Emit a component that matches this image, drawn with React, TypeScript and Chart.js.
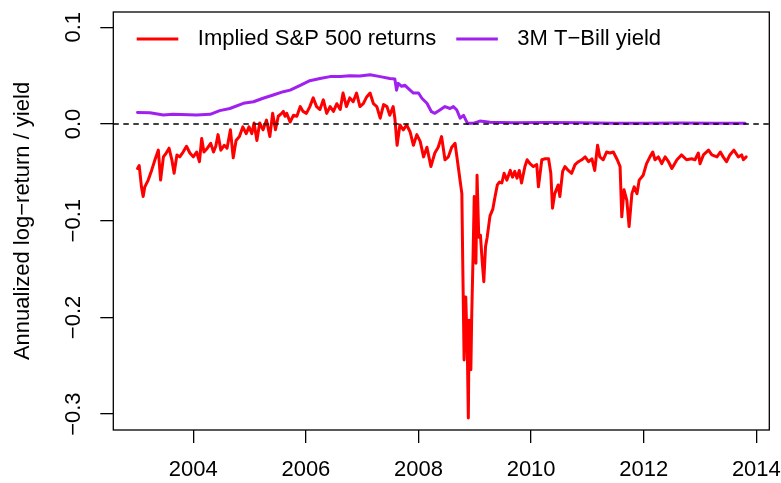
import React, { useEffect, useRef } from "react";
import { Chart, registerables } from "chart.js";

Chart.register(...registerables);

const FONT = '"Liberation Sans", Arial, Helvetica, sans-serif';

// ---- labels ----
const spLabel = "Implied S&P 500 returns";
const tbLabel = "3M T\u2212Bill yield";
const yTitle = "Annualized log\u2212return / yield";

// ---- axes ----
const xTicks = [2004, 2006, 2008, 2010, 2012, 2014];
const xTickLabels = ["2004", "2006", "2008", "2010", "2012", "2014"];
const yTicks = [-0.3, -0.2, -0.1, 0, 0.1];
const yTickLabels = ["\u22120.3", "\u22120.2", "\u22120.1", "0.0", "0.1"];
const X_MIN = 2002.58;
const X_MAX = 2014.23;
const Y_MIN = -0.3164;
const Y_MAX = 0.1158;

// ---- implied S&P 500 returns ----
const spYears = [
  2003.01, 2003.04, 2003.08, 2003.11, 2003.14, 2003.2, 2003.26, 2003.32, 2003.38, 2003.42,
  2003.47, 2003.52, 2003.57, 2003.62, 2003.66, 2003.71, 2003.76, 2003.82, 2003.88, 2003.94,
  2004.0, 2004.06, 2004.11, 2004.15, 2004.19, 2004.25, 2004.31, 2004.36, 2004.4, 2004.44,
  2004.49, 2004.55, 2004.6, 2004.66, 2004.71, 2004.76, 2004.82, 2004.88, 2004.94, 2004.99,
  2005.04, 2005.08, 2005.13, 2005.18, 2005.24, 2005.3, 2005.36, 2005.41, 2005.46, 2005.51,
  2005.57, 2005.6, 2005.63, 2005.66, 2005.72, 2005.78, 2005.84, 2005.9, 2005.95, 2006.01,
  2006.07, 2006.13, 2006.19, 2006.25, 2006.31, 2006.37, 2006.43, 2006.49, 2006.55, 2006.61,
  2006.66, 2006.72, 2006.78, 2006.84, 2006.9, 2006.96, 2007.02, 2007.08, 2007.14, 2007.2,
  2007.26, 2007.32, 2007.38, 2007.44, 2007.49, 2007.55, 2007.58, 2007.62, 2007.67, 2007.73,
  2007.79, 2007.85, 2007.91, 2007.97, 2008.03, 2008.09, 2008.15, 2008.22, 2008.29, 2008.35,
  2008.41, 2008.47, 2008.53, 2008.59, 2008.65, 2008.71, 2008.77, 2008.785, 2008.81, 2008.83,
  2008.84, 2008.87, 2008.885, 2008.9, 2008.93, 2008.945, 2008.97, 2008.99, 2009.02, 2009.04,
  2009.07, 2009.1, 2009.13, 2009.16, 2009.19, 2009.22, 2009.27, 2009.32, 2009.36, 2009.4,
  2009.44, 2009.48, 2009.52, 2009.57, 2009.63, 2009.67, 2009.71, 2009.75, 2009.79, 2009.83,
  2009.89, 2009.93, 2009.98, 2010.04, 2010.1, 2010.13, 2010.19, 2010.25, 2010.31, 2010.35,
  2010.38, 2010.42, 2010.48, 2010.51, 2010.56, 2010.6, 2010.66, 2010.72, 2010.78, 2010.84,
  2010.9, 2010.96, 2011.02, 2011.08, 2011.13, 2011.18, 2011.22, 2011.28, 2011.34, 2011.4,
  2011.46, 2011.53, 2011.58, 2011.61, 2011.65, 2011.7, 2011.74, 2011.79, 2011.83, 2011.88,
  2011.92, 2011.99, 2012.05, 2012.11, 2012.16, 2012.2, 2012.26, 2012.32, 2012.38, 2012.44,
  2012.5, 2012.59, 2012.67, 2012.76, 2012.85, 2012.91, 2012.97, 2013.0, 2013.06, 2013.15,
  2013.21, 2013.3, 2013.36, 2013.41, 2013.47, 2013.53, 2013.6, 2013.68, 2013.74, 2013.77, 2013.82,
];
const spValues = [
  -0.046, -0.043, -0.065, -0.075, -0.065, -0.058, -0.048, -0.037, -0.027, -0.058,
  -0.034, -0.03, -0.025, -0.037, -0.051, -0.032, -0.034, -0.029, -0.023, -0.03,
  -0.034, -0.029, -0.039, -0.015, -0.029, -0.025, -0.02, -0.029, -0.023, -0.011,
  -0.027, -0.022, -0.025, -0.006, -0.035, -0.017, -0.013, -0.003, -0.01, -0.003,
  -0.01, 0.001, -0.017, 0.001, -0.006, 0.004, -0.013, 0.011, -0.006, 0.008,
  0.011, 0.013, 0.008, 0.011, 0.002, 0.009, 0.008, 0.018, 0.013, 0.011,
  0.018, 0.027, 0.018, 0.015, 0.025, 0.011, 0.018, 0.013, 0.021, 0.015,
  0.032, 0.018, 0.027, 0.023, 0.032, 0.018, 0.021, 0.028, 0.032, 0.021,
  0.018, 0.006, 0.02, 0.018, 0.009, 0.018, 0.006, -0.022, -0.001, -0.006,
  -0.001, -0.008, -0.022, -0.011, -0.018, -0.034, -0.024, -0.044, -0.03, -0.024,
  -0.013, -0.037, -0.034, -0.024, -0.02, -0.046, -0.072, -0.14, -0.244, -0.179,
  -0.18, -0.244, -0.304, -0.203, -0.254, -0.199, -0.134, -0.075, -0.144, -0.053,
  -0.117, -0.115, -0.141, -0.163, -0.127, -0.117, -0.095, -0.088, -0.075, -0.063,
  -0.06, -0.061, -0.051, -0.058, -0.048, -0.055, -0.049, -0.056, -0.048, -0.061,
  -0.044, -0.037, -0.041, -0.044, -0.042, -0.065, -0.037, -0.036, -0.036, -0.051,
  -0.087, -0.072, -0.063, -0.075, -0.049, -0.044, -0.048, -0.051, -0.042, -0.039,
  -0.037, -0.034, -0.039, -0.036, -0.048, -0.022, -0.034, -0.037, -0.029, -0.03,
  -0.029, -0.037, -0.044, -0.096, -0.068, -0.079, -0.106, -0.072, -0.065, -0.072,
  -0.058, -0.053, -0.041, -0.034, -0.029, -0.037, -0.034, -0.041, -0.034, -0.039,
  -0.046, -0.037, -0.032, -0.037, -0.036, -0.037, -0.03, -0.041, -0.032, -0.027,
  -0.032, -0.034, -0.029, -0.034, -0.039, -0.032, -0.027, -0.034, -0.032, -0.037, -0.034,
];

// ---- 3M T-Bill yield ----
const tbYears = [
  2003.01, 2003.23, 2003.47, 2003.64, 2004.06, 2004.3, 2004.47, 2004.65, 2004.89, 2005.07,
  2005.24, 2005.42, 2005.6, 2005.72, 2005.9, 2006.07, 2006.25, 2006.43, 2006.61, 2006.78,
  2006.96, 2007.14, 2007.32, 2007.49, 2007.58, 2007.61, 2007.64, 2007.7, 2007.76, 2007.85,
  2007.91, 2008.0, 2008.06, 2008.15, 2008.23, 2008.29, 2008.38, 2008.47, 2008.56, 2008.62,
  2008.68, 2008.74, 2008.8, 2008.87, 2008.97, 2009.09, 2009.27, 2009.68, 2010.28, 2010.87,
  2011.46, 2012.05, 2012.64, 2013.24, 2013.8,
];
const tbValues = [
  0.012, 0.0117, 0.0093, 0.01, 0.0093, 0.01, 0.0138, 0.016, 0.0214, 0.023,
  0.0266, 0.03, 0.0334, 0.035, 0.04, 0.0448, 0.047, 0.049, 0.049, 0.05,
  0.0496, 0.051, 0.049, 0.047, 0.0465, 0.035, 0.042, 0.039, 0.04, 0.035,
  0.032, 0.032, 0.0266, 0.0214, 0.0127, 0.011, 0.0145, 0.018, 0.016, 0.018,
  0.0145, 0.006, 0.009, 0.0007, 0.0007, 0.003, 0.0018, 0.0014, 0.0015, 0.0014,
  0.0007, 0.0007, 0.001, 0.0008, 0.0007,
];

const spColor = "#FF0000";
const tbColor = "#A020F0";

function zip(xs: number[], ys: number[]) {
  const n = Math.min(xs.length, ys.length);
  const out: { x: number; y: number }[] = [];
  for (let i = 0; i < n; i++) out.push({ x: xs[i], y: ys[i] });
  return out;
}

const framePlugin = {
  id: "rframe",
  afterDatasetsDraw(chart: any) {
    const { ctx, chartArea, scales } = chart;
    const { left, right, top, bottom } = chartArea;
    ctx.save();
    // dashed zero line
    const y0 = scales.y.getPixelForValue(0);
    ctx.strokeStyle = "#000";
    ctx.lineWidth = 1.3;
    ctx.setLineDash([5.5, 4.5]);
    ctx.beginPath();
    ctx.moveTo(left, y0);
    ctx.lineTo(right, y0);
    ctx.stroke();
    ctx.setLineDash([]);
    // box
    ctx.lineWidth = 1.3;
    ctx.strokeRect(left, top, right - left, bottom - top);
    // y tick labels (rotated, R style)
    ctx.fillStyle = "#000";
    ctx.font = `22px ${FONT}`;
    ctx.textAlign = "center";
    ctx.textBaseline = "middle";
    yTicks.forEach((v, i) => {
      const py = scales.y.getPixelForValue(v);
      ctx.save();
      ctx.translate(left - 39.8, py);
      ctx.rotate(-Math.PI / 2);
      ctx.fillText(yTickLabels[i], 0, 0);
      ctx.restore();
    });
    // legend
    const ly = top + 27;
    let lx = left + 23.4;
    ctx.textAlign = "left";
    ctx.lineCap = "butt";
    chart.data.datasets.forEach((ds: any) => {
      ctx.strokeStyle = ds.borderColor;
      ctx.lineWidth = 3;
      ctx.beginPath();
      ctx.moveTo(lx, ly);
      ctx.lineTo(lx + 41.6, ly);
      ctx.stroke();
      const tx = lx + 41.6 + 19.5;
      ctx.fillStyle = "#000";
      ctx.fillText(ds.label, tx, ly - 0.5);
      lx = tx + ctx.measureText(ds.label).width + 20;
    });
    ctx.restore();
  },
};

export default function App() {
  const ref = useRef<HTMLCanvasElement>(null);
  useEffect(() => {
    const canvas = ref.current;
    if (!canvas) return;
    const tickGrid = {
      drawOnChartArea: false,
      drawTicks: true,
      tickLength: 13,
      color: "#000",
      lineWidth: 1.3,
    };
    const chart = new Chart(canvas, {
      type: "line",
      data: {
        datasets: [
          {
            label: spLabel,
            data: zip(spYears, spValues),
            borderColor: spColor,
            backgroundColor: spColor,
            borderWidth: 3,
            pointRadius: 0,
            tension: 0,
            fill: false,
            borderJoinStyle: "round",
            borderCapStyle: "round",
          },
          {
            label: tbLabel,
            data: zip(tbYears, tbValues),
            borderColor: tbColor,
            backgroundColor: tbColor,
            borderWidth: 3,
            pointRadius: 0,
            tension: 0,
            fill: false,
            borderJoinStyle: "round",
            borderCapStyle: "round",
          },
        ],
      },
      options: {
        responsive: false,
        animation: false,
        devicePixelRatio: 1,
        events: [],
        layout: { padding: { top: 12, right: 11.7, bottom: 0, left: 0 } },
        plugins: { legend: { display: false }, tooltip: { enabled: false } },
        scales: {
          x: {
            type: "linear",
            min: X_MIN,
            max: X_MAX,
            afterBuildTicks: (s: any) => {
              s.ticks = xTicks.map((v) => ({ value: v }));
            },
            afterFit: (s: any) => {
              s.height = 53;
              s.paddingLeft = 0;
              s.paddingRight = 0;
            },
            ticks: {
              color: "#000",
              font: { family: FONT, size: 22 },
              padding: 14,
              maxRotation: 0,
              minRotation: 0,
              autoSkip: false,
              callback: (v: any) => {
                const i = xTicks.indexOf(Number(v));
                return i >= 0 ? xTickLabels[i] : "";
              },
            },
            grid: tickGrid,
            border: { display: false },
          },
          y: {
            type: "linear",
            min: Y_MIN,
            max: Y_MAX,
            afterBuildTicks: (s: any) => {
              s.ticks = yTicks.map((v) => ({ value: v }));
            },
            afterFit: (s: any) => {
              s.width = 113.3;
              s.paddingTop = 0;
              s.paddingBottom = 0;
            },
            ticks: { display: false },
            grid: tickGrid,
            border: { display: false },
            title: {
              display: true,
              text: yTitle,
              color: "#000",
              font: { family: FONT, size: 22 },
              padding: { top: 9.3, bottom: 0 },
            },
          },
        },
      },
      plugins: [framePlugin],
    } as any);
    return () => chart.destroy();
  }, []);
  return (
    <div style={{ position: "fixed", left: 0, top: 0, width: 781, height: 483, background: "#fff" }}>
      <canvas ref={ref} width={781} height={483} style={{ display: "block" }} />
    </div>
  );
}
